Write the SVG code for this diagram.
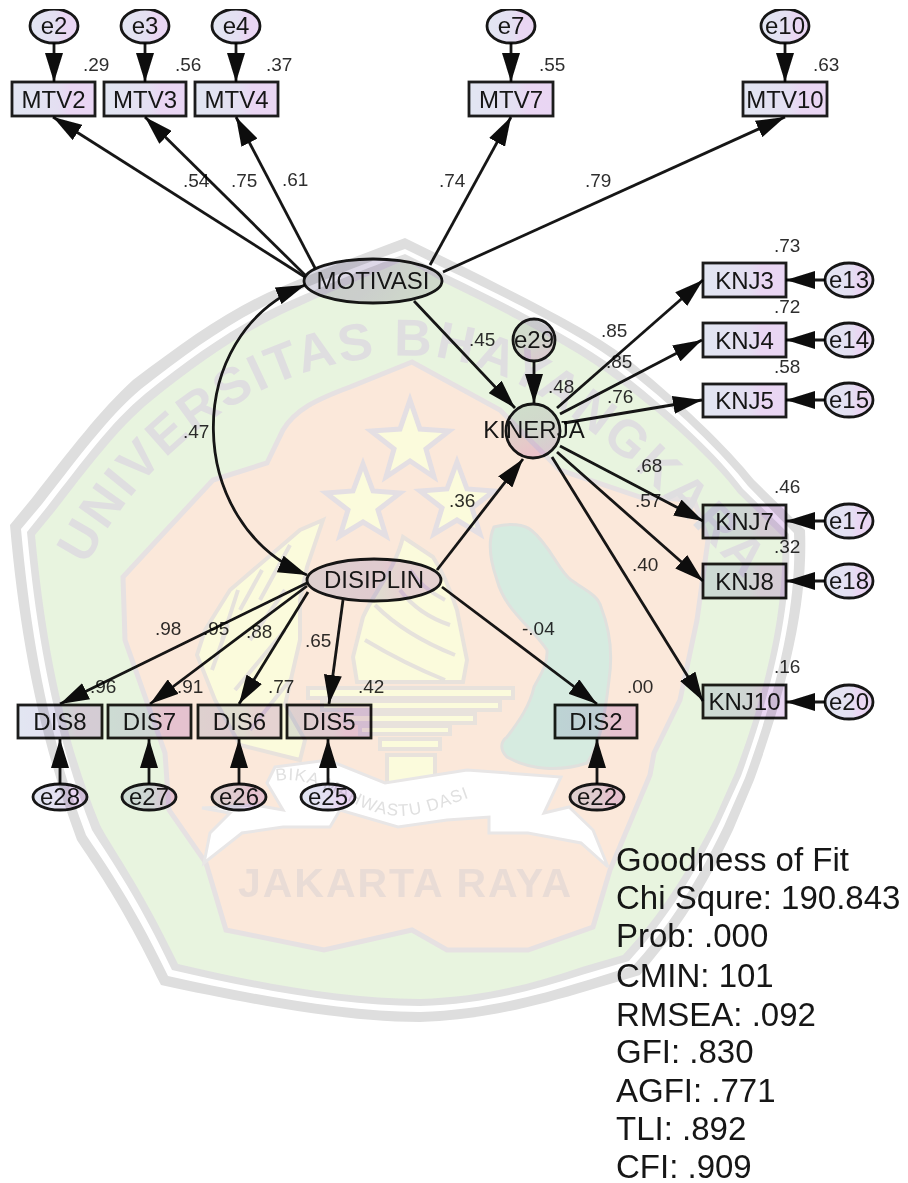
<svg xmlns="http://www.w3.org/2000/svg" width="908" height="1183" viewBox="0 0 908 1183">
<style>
text{font-family:"Liberation Sans",Arial,sans-serif}
.n{mix-blend-mode:multiply}
.b{fill:url(#g1);stroke:#1c1c1c;stroke-width:2.8}
.e{fill:url(#g1);stroke:#151515;stroke-width:2.8}
.t{font-size:24px;fill:#151515;text-anchor:middle}
.v{font-size:19px;fill:#2e2e2e}
.f{font-size:33px;fill:#151515}
.c line,.c path{stroke:#151515;stroke-width:2.8;fill:none}
.c line{marker-end:url(#ah)}
.wt{font-weight:bold;fill:#dfdee0}
.st{fill:#fbfbdc;stroke:#e4dfe3;stroke-width:5}
.y{fill:#fbfbdc;stroke:#e8e2dc;stroke-width:4}
.s{fill:none;stroke:#e6e2dc;stroke-width:4}
</style>
<defs>
<linearGradient id="g1" x1="0" y1="0" x2="1" y2="0"><stop offset="0" stop-color="#e2e6f2"/><stop offset="0.55" stop-color="#e4dff2"/><stop offset="0.7" stop-color="#ead6f3"/><stop offset="1" stop-color="#e9d6f3"/></linearGradient>
<linearGradient id="g2" x1="0" y1="0" x2="1" y2="0.3"><stop offset="0" stop-color="#d8dae0"/><stop offset="0.6" stop-color="#e0d8ea"/><stop offset="1" stop-color="#e4e3e8"/></linearGradient>
<linearGradient id="g3" x1="0.2" y1="0" x2="0.7" y2="1"><stop offset="0" stop-color="#e4e8e8"/><stop offset="0.5" stop-color="#e6e2ea"/><stop offset="1" stop-color="#f2d2ee"/></linearGradient>
<marker id="ah" markerUnits="userSpaceOnUse" viewBox="0 0 29 18" markerWidth="29" markerHeight="18" refX="29" refY="9" orient="auto-start-reverse"><path d="M0,0 L29,9 L0,18 Z" fill="#0c0c0c"/></marker>
<filter id="soft" x="0" y="0" width="100%" height="100%"><feGaussianBlur stdDeviation="0.5"/></filter>
<path id="arc1" d="M86,566 C160,425 290,352 420,356 C530,362 630,450 790,630"/>
<path id="arc2" d="M272,782 C320,770 350,815 400,816 C450,815 490,775 548,790"/>
</defs>
<rect width="908" height="1183" fill="#fff"/>
<g filter="url(#soft)">
<g id="watermark">
<path d="M405,238 L454,262 C520,295 590,330 620,353 C680,400 730,450 754,480 L805,530 C808,600 790,680 754,780 L733,830 C700,900 670,940 640,975 L590,990 C530,1008 480,1020 420,1022 C340,1022 240,1002 161,985 C120,900 90,860 77,840 C40,740 20,640 10,525 L33,497 C70,450 100,410 133,380 C180,345 220,315 267,293 C320,270 360,255 405,238 Z" fill="#dedede"/>
<path d="M405,249 L450,271 C520,304 585,338 615,361 C675,406 725,456 748,486 L794,533 C797,600 781,680 745,778 L724,826 C691,895 661,935 633,966 L588,980 C530,998 480,1010 420,1012 C340,1012 245,993 168,976 C129,895 99,855 86,835 C49,738 31,640 21,529 L42,504 C79,457 107,418 141,389 C187,353 227,324 273,302 C325,279 363,264 405,249 Z" fill="#fff"/>
<path d="M405,254 L447,275 C516,308 581,343 611,365 C671,410 721,459 743,489 L789,534 C792,600 776,680 741,776 L720,822 C687,890 657,930 629,961 L585,974 C530,992 480,1004 420,1006 C340,1006 250,988 172,970 C134,890 104,850 92,830 C55,735 37,640 27,532 L47,507 C83,461 111,422 145,394 C191,357 231,329 276,307 C328,284 365,269 405,254 Z" fill="#e0e0e0"/>
<path d="M405,260 L443,282 C512,315 576,350 606,372 C666,416 716,463 738,493 L782,536 C785,600 770,680 735,773 L715,818 C681,885 651,925 623,955 L582,967 C530,985 480,997 420,999 C340,999 255,982 178,964 C140,885 110,845 100,825 C62,732 45,640 35,535 L54,512 C89,467 117,429 151,401 C197,364 237,336 282,314 C332,291 368,276 405,260 Z" fill="#e8f4df"/>
<path d="M412,362 L350,387 C315,400 295,410 283,430 L267,463 L213,480 L160,537 L123,577 L125,640 L165,753 L169,810 L206,863 L226,930 L324,950 L412,930 L447,950 L528,950 L593,927 L610,870 L650,775 L654,753 L680,700 L697,620 L708,540 L694,500 L640,497 L560,470 L500,410 Z" fill="#fbe8da" stroke="#e6e1e2" stroke-width="5"/>
<path d="M494,527 C510,522 525,525 531,530 C550,545 558,570 571,580 C585,590 598,595 601,607 C612,635 612,660 609,680 C605,715 600,745 587,763 C560,772 530,770 507,757 C500,750 500,742 507,737 C520,720 530,705 534,687 C540,675 548,665 547,650 C530,625 505,610 497,580 C490,560 488,540 494,527 Z" fill="#d6ebe0" stroke="#e0e0dd" stroke-width="3"/>
<polygon class="st" points="410,400 420,429 449,431 426,449 434,477 410,461 386,477 394,449 371,431 400,429"/>
<polygon class="st" points="363,464 373,491 400,493 378,510 386,536 363,522 340,536 348,510 326,493 353,491"/>
<polygon class="st" points="457,462 467,489 494,491 472,508 480,534 457,520 434,534 442,508 420,491 447,489"/>
<path class="y" d="M403,537 L433,557 C445,575 452,595 457,610 L467,660 L463,682 L357,682 L353,657 L363,617 C375,590 395,570 403,537 Z"/>
<path class="s" d="M375,605 C400,630 430,645 455,655 M400,590 C415,610 435,620 450,625 M365,640 C390,655 420,670 445,680 M410,570 C420,585 435,595 445,600"/>
<path class="y" d="M323,520 L300,530 L265,560 L230,590 L205,630 L197,655 L215,700 L240,745 L300,760 L305,740 L285,705 L300,640 L300,600 L307,567 Z"/>
<path class="s" d="M240,610 L262,570 M222,640 L238,590 M260,600 L290,545 M212,670 L228,625 M250,640 L285,590 M235,690 L285,630 M250,730 L290,680"/>
<rect class="y" x="308" y="688" width="205" height="10"/>
<rect class="y" x="322" y="701" width="178" height="9"/>
<rect class="y" x="345" y="714" width="130" height="9"/>
<rect class="y" x="360" y="726" width="90" height="8"/>
<rect class="y" x="380" y="739" width="60" height="10"/>
<rect class="y" x="387" y="755" width="48" height="28"/>
<path d="M275,767 L328,760 L385,783 L467,770 L561,777 L544,813 L569,807 L593,830 L608,867 L581,843 L528,833 L489,833 L489,817 L447,820 L398,827 L340,810 L330,827 L283,827 L242,833 L204,863 L210,833 L230,813 L202,808 L255,805 L283,810 L267,783 Z" fill="#fff" stroke="#e8e6e6" stroke-width="3"/>
<text class="wt" font-size="52" letter-spacing="2.5"><textPath href="#arc1">UNIVERSITAS BHAYANGKARA</textPath></text>
<text font-size="17" fill="#e0e0e0" letter-spacing="1"><textPath href="#arc2" startOffset="4">BIKA MAHWASTU DASI</textPath></text>
<text x="238" y="897" font-size="41" font-weight="bold" fill="#e9dcd6" textLength="333">JAKARTA RAYA</text>
</g>
<g id="connectors" class="c n">
<line x1="54" y1="43" x2="54" y2="82"/><line x1="145" y1="43" x2="145" y2="82"/><line x1="236" y1="43" x2="236" y2="82"/><line x1="511" y1="43" x2="511" y2="82"/><line x1="785" y1="43" x2="785" y2="82"/>
<line x1="305" y1="277" x2="53" y2="117"/><line x1="305" y1="275" x2="145" y2="117"/><line x1="315" y1="268" x2="236" y2="117"/><line x1="430" y1="265" x2="511" y2="117"/><line x1="443" y1="272" x2="785" y2="117"/>
<line x1="414" y1="301" x2="515" y2="408"/><line x1="534" y1="362" x2="534" y2="403"/><line x1="437" y1="570" x2="523" y2="459"/>
<line x1="557" y1="408" x2="703" y2="280"/><line x1="560" y1="414" x2="702" y2="340"/><line x1="564" y1="423" x2="702" y2="400"/><line x1="560" y1="446" x2="703" y2="521"/><line x1="557" y1="452" x2="703" y2="581"/><line x1="552" y1="457" x2="703" y2="701"/>
<line x1="825" y1="280" x2="786" y2="280"/><line x1="825" y1="340" x2="786" y2="340"/><line x1="825" y1="400" x2="786" y2="400"/><line x1="825" y1="521" x2="786" y2="521"/><line x1="825" y1="581" x2="786" y2="581"/><line x1="825" y1="702" x2="786" y2="702"/>
<line x1="307" y1="583" x2="60" y2="704"/><line x1="307" y1="586" x2="150" y2="704"/><line x1="308" y1="592" x2="239" y2="704"/><line x1="343" y1="600" x2="329" y2="704"/><line x1="442" y1="587" x2="597" y2="704"/>
<line x1="60" y1="784" x2="60" y2="739"/><line x1="149" y1="784" x2="149" y2="739"/><line x1="239" y1="784" x2="239" y2="739"/><line x1="328" y1="784" x2="328" y2="739"/><line x1="597" y1="784" x2="597" y2="739"/>
<path d="M305,285 C180,335 185,525 307,575" marker-start="url(#ah)" marker-end="url(#ah)"/>
</g>
<g id="e2" class="n"><ellipse class="e" cx="54" cy="26" rx="24" ry="17"/><text class="t" x="54" y="34">e2</text></g>
<g id="e3" class="n"><ellipse class="e" cx="145" cy="26" rx="24" ry="17"/><text class="t" x="145" y="34">e3</text></g>
<g id="e4" class="n"><ellipse class="e" cx="236" cy="26" rx="24" ry="17"/><text class="t" x="236" y="34">e4</text></g>
<g id="e7" class="n"><ellipse class="e" cx="511" cy="26" rx="24" ry="17"/><text class="t" x="511" y="34">e7</text></g>
<g id="e10" class="n"><ellipse class="e" cx="785" cy="26" rx="24" ry="17"/><text class="t" x="785" y="34">e10</text></g>
<g id="MTV2" class="n"><rect class="b" x="12" y="82" width="83" height="34"/><text class="t" x="53.500" y="108">MTV2</text></g>
<g id="MTV3" class="n"><rect class="b" x="104" y="82" width="82" height="34"/><text class="t" x="145" y="108">MTV3</text></g>
<g id="MTV4" class="n"><rect class="b" x="195" y="82" width="83" height="34"/><text class="t" x="236.500" y="108">MTV4</text></g>
<g id="MTV7" class="n"><rect class="b" x="469" y="82" width="84" height="34"/><text class="t" x="511" y="108">MTV7</text></g>
<g id="MTV10" class="n"><rect class="b" x="743" y="82" width="84" height="34"/><text class="t" x="785" y="108">MTV10</text></g>
<g id="MOTIVASI" class="n"><ellipse cx="373" cy="281" rx="69" ry="22" fill="url(#g2)" stroke="#151515" stroke-width="2.8"/><text class="t" x="373" y="289">MOTIVASI</text></g>
<g id="DISIPLIN" class="n"><ellipse class="e" cx="374" cy="580" rx="67" ry="21"/><text class="t" x="374" y="588">DISIPLIN</text></g>
<g id="e29" class="n"><circle cx="534" cy="340" r="21" fill="url(#g3)" stroke="#151515" stroke-width="2.8"/><text class="t" x="534" y="348">e29</text></g>
<g id="KINERJA" class="n"><circle cx="533" cy="431" r="27" fill="url(#g3)" stroke="#151515" stroke-width="2.8"/><text class="t" x="534" y="438">KINERJA</text></g>
<g id="KNJ3" class="n"><rect class="b" x="703" y="263" width="83" height="34"/><text class="t" x="744.500" y="289">KNJ3</text></g>
<g id="KNJ4" class="n"><rect class="b" x="703" y="323" width="83" height="34"/><text class="t" x="744.500" y="349">KNJ4</text></g>
<g id="KNJ5" class="n"><rect class="b" x="703" y="384" width="83" height="33"/><text class="t" x="744.500" y="409">KNJ5</text></g>
<g id="KNJ7" class="n"><rect class="b" x="703" y="505" width="83" height="33"/><text class="t" x="744.500" y="530">KNJ7</text></g>
<g id="KNJ8" class="n"><rect class="b" x="703" y="564" width="83" height="34"/><text class="t" x="744.500" y="590">KNJ8</text></g>
<g id="KNJ10" class="n"><rect class="b" x="703" y="685" width="83" height="33"/><text class="t" x="744.500" y="710">KNJ10</text></g>
<g id="e13" class="n"><ellipse class="e" cx="849" cy="280" rx="24" ry="17"/><text class="t" x="849" y="288">e13</text></g>
<g id="e14" class="n"><ellipse class="e" cx="849" cy="340" rx="24" ry="17"/><text class="t" x="849" y="348">e14</text></g>
<g id="e15" class="n"><ellipse class="e" cx="849" cy="400" rx="24" ry="17"/><text class="t" x="849" y="408">e15</text></g>
<g id="e17" class="n"><ellipse class="e" cx="849" cy="521" rx="24" ry="17"/><text class="t" x="849" y="529">e17</text></g>
<g id="e18" class="n"><ellipse class="e" cx="849" cy="581" rx="24" ry="17"/><text class="t" x="849" y="589">e18</text></g>
<g id="e20" class="n"><ellipse class="e" cx="849" cy="702" rx="24" ry="17"/><text class="t" x="849" y="710">e20</text></g>
<g id="DIS8" class="n"><rect class="b" x="18" y="705" width="84" height="33"/><text class="t" x="60" y="730">DIS8</text></g>
<g id="DIS7" class="n"><rect class="b" x="108" y="705" width="83" height="33"/><text class="t" x="149.500" y="730">DIS7</text></g>
<g id="DIS6" class="n"><rect class="b" x="198" y="705" width="83" height="33"/><text class="t" x="239.500" y="730">DIS6</text></g>
<g id="DIS5" class="n"><rect class="b" x="287" y="705" width="84" height="33"/><text class="t" x="329" y="730">DIS5</text></g>
<g id="DIS2" class="n"><rect class="b" x="555" y="705" width="82" height="33"/><text class="t" x="596" y="730">DIS2</text></g>
<g id="e28" class="n"><ellipse class="e" cx="60" cy="797" rx="27" ry="13"/><text class="t" x="60" y="805">e28</text></g>
<g id="e27" class="n"><ellipse class="e" cx="149" cy="797" rx="27" ry="13"/><text class="t" x="149" y="805">e27</text></g>
<g id="e26" class="n"><ellipse class="e" cx="239" cy="797" rx="27" ry="13"/><text class="t" x="239" y="805">e26</text></g>
<g id="e25" class="n"><ellipse class="e" cx="328" cy="797" rx="27" ry="13"/><text class="t" x="328" y="805">e25</text></g>
<g id="e22" class="n"><ellipse class="e" cx="597" cy="797" rx="27" ry="13"/><text class="t" x="597" y="805">e22</text></g>
<g id="labels" class="n">
<text class="v" x="83" y="71">.29</text><text class="v" x="175" y="71">.56</text><text class="v" x="266" y="71">.37</text><text class="v" x="539" y="71">.55</text><text class="v" x="813" y="71">.63</text>
<text class="v" x="183" y="187">.54</text><text class="v" x="231" y="187">.75</text><text class="v" x="282" y="186">.61</text><text class="v" x="439" y="187">.74</text><text class="v" x="585" y="187">.79</text>
<text class="v" x="183" y="438">.47</text><text class="v" x="469" y="346">.45</text><text class="v" x="548" y="393">.48</text><text class="v" x="449" y="507">.36</text>
<text class="v" x="601" y="337">.85</text><text class="v" x="606" y="368">.85</text><text class="v" x="607" y="403">.76</text><text class="v" x="636" y="472">.68</text><text class="v" x="635" y="507">.57</text><text class="v" x="632" y="571">.40</text><text class="v" x="522" y="635">-.04</text><text class="v" x="627" y="693">.00</text>
<text class="v" x="774" y="252">.73</text><text class="v" x="774" y="313">.72</text><text class="v" x="774" y="373">.58</text><text class="v" x="774" y="493">.46</text><text class="v" x="774" y="553">.32</text><text class="v" x="774" y="673">.16</text>
<text class="v" x="155" y="635">.98</text><text class="v" x="203" y="635">.95</text><text class="v" x="246" y="638">.88</text><text class="v" x="305" y="647">.65</text><text class="v" x="90" y="693">.96</text><text class="v" x="177" y="693">.91</text><text class="v" x="268" y="693">.77</text><text class="v" x="358" y="693">.42</text>
</g>
<g id="fit" class="n">
<text class="f" x="616" y="871">Goodness of Fit</text>
<text class="f" x="616" y="909">Chi Squre: 190.843</text>
<text class="f" x="616" y="947">Prob: .000</text>
<text class="f" x="616" y="987">CMIN: 101</text>
<text class="f" x="616" y="1026">RMSEA: .092</text>
<text class="f" x="616" y="1063">GFI: .830</text>
<text class="f" x="616" y="1102">AGFI: .771</text>
<text class="f" x="616" y="1140">TLI: .892</text>
<text class="f" x="616" y="1178">CFI: .909</text>
</g>
</g>
</svg>
